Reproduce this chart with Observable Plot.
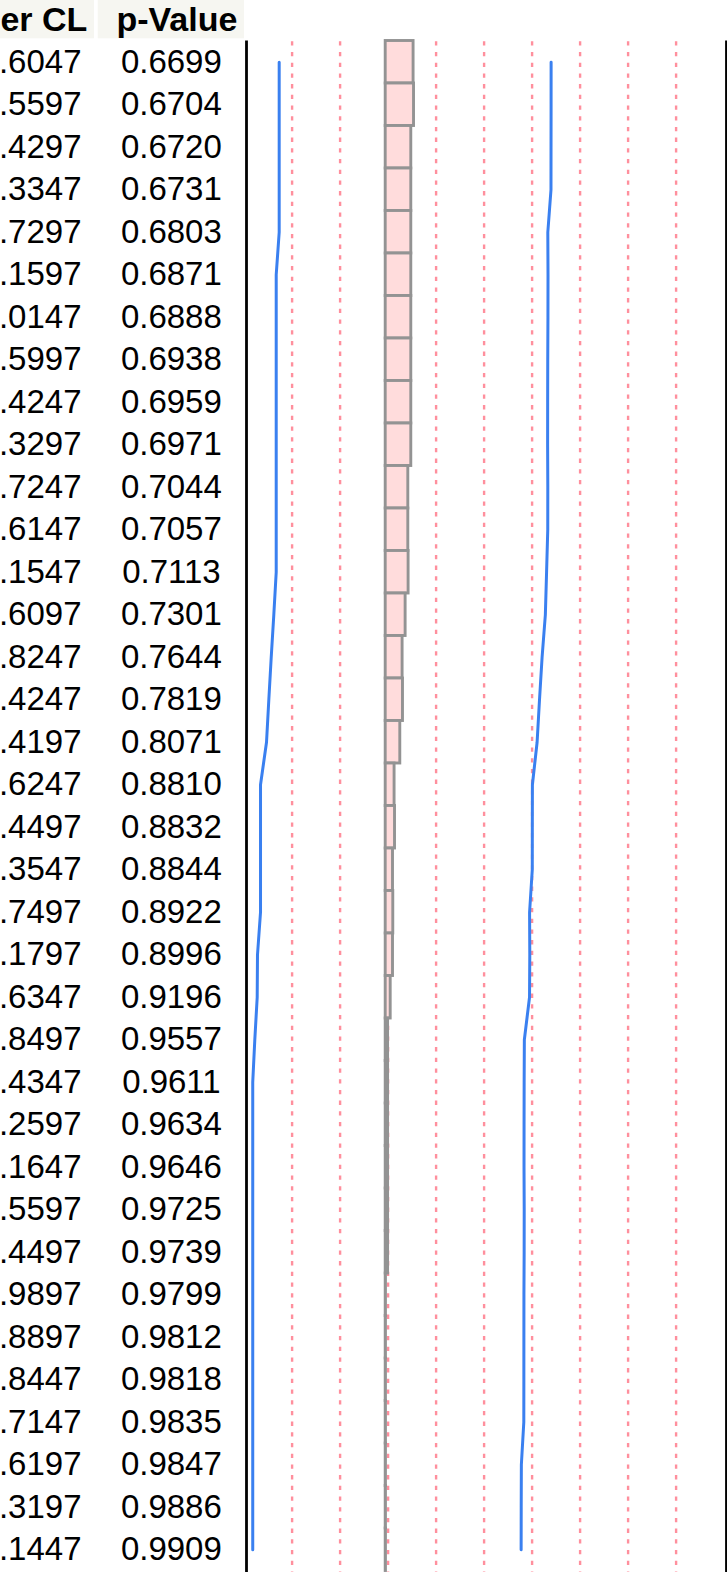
<!DOCTYPE html>
<html>
<head>
<meta charset="utf-8">
<script src="https://cdn.jsdelivr.net/npm/d3@7"></script>
<script src="https://cdn.jsdelivr.net/npm/@observablehq/plot@0.6"></script>
<style>
  html, body { margin: 0; padding: 0; background: #fff; overflow: hidden; }
  #wrap { position: relative; width: 727px; height: 1572px; overflow: hidden; }
  #wrap svg { position: absolute; top: 0; max-width: none !important; }
</style>
</head>
<body>
<div id="wrap"></div>
<script>
// ---- data ----
const columns = ["Upper CL", "p-Value"];

const pValue = [0.6699, 0.6704, 0.6720, 0.6731, 0.6803, 0.6871, 0.6888, 0.6938, 0.6959, 0.6971,
  0.7044, 0.7057, 0.7113, 0.7301, 0.7644, 0.7819, 0.8071, 0.8810, 0.8832, 0.8844,
  0.8922, 0.8996, 0.9196, 0.9557, 0.9611, 0.9634, 0.9646, 0.9725, 0.9739, 0.9799,
  0.9812, 0.9818, 0.9835, 0.9847, 0.9886, 0.9909];

const upperCL = [344.6047, 344.5597, 344.4297, 344.3347, 337.7297, 338.1597, 338.0147, 337.5997, 337.4247, 337.3297,
  337.7247, 337.6147, 335.1547, 332.6097, 325.8247, 320.4247, 315.4197, 305.6247, 305.4497, 305.3547,
  299.7497, 300.1797, 299.6347, 288.8497, 288.4347, 288.2597, 288.1647, 288.5597, 288.4497, 287.9897,
  287.8897, 287.8447, 287.7147, 282.6197, 282.3197, 282.1447];

const lowerCL = [-221.9, -221.9, -221.9, -221.9, -221.9, -228.1, -228.1, -228.1, -228.1, -228.1,
  -228.1, -228.1, -228.1, -233.1, -238.5, -243.5, -248.3, -260.8, -260.8, -260.8,
  -260.8, -267.1, -267.7, -272.7, -277.0, -277.0, -277.0, -277.0, -277.0, -277.0,
  -277.0, -277.0, -277.0, -277.0, -277.0, -277.0];

const estimate = [58.1, 59.0, 53.3, 53.3, 53.3, 53.3, 53.3, 53.3, 53.3, 53.3,
  47.1, 47.1, 47.7, 41.5, 35.2, 36.0, 30.4, 18.5, 19.4, 15.2,
  15.8, 15.2, 10.4, 5.0, 5.0, 5.0, 5.0, 5.0, 5.0, 0.5,
  0.5, 0.5, 0.5, 0.5, 0.5, 0.5];

const xDomain = [-290, 710];
const gridX = [-195, -95, 5, 105, 205, 305, 405, 505, 605];

// ---- layout ----
const rowH = 42.5;
const topM = 40.5;
const nBands = pValue.length + 1;        // one more band continues below the window
const H = topM + nBands * rowH;
const rows = pValue.map((p, i) => ({i, p, ucl: upperCL[i], lcl: lowerCL[i], est: estimate[i]}));
const rowDomain = d3.range(nBands);
const font = "'Liberation Sans', Arial, Helvetica, sans-serif";

// ---- table ----
const table = Plot.plot({
  width: 244,
  height: H,
  margin: 0,
  style: {fontFamily: font, background: "transparent", color: "#000"},
  x: {type: "band", domain: columns, range: [-52.3, 244], paddingInner: 0.025, paddingOuter: 0, round: false, axis: null},
  y: {type: "band", domain: ["header", ...rowDomain], range: [topM - rowH, H], padding: 0, round: false, axis: null},
  marks: [
    Plot.cell(columns, {x: d => d, y: () => "header", fill: "#f6f6f1", insetBottom: 2.2}),
    Plot.text(columns, {x: d => d, y: () => "header", text: d => d, textAnchor: "end", dx: 66,
      fontWeight: "bold", fontSize: 34, fill: "#000"}),
    Plot.text(rows, {x: () => "Upper CL", y: "i", text: d => d.ucl.toFixed(4), textAnchor: "end", dx: 60.2,
      fontSize: 33, fill: "#000"}),
    Plot.text(rows, {x: () => "p-Value", y: "i", text: d => d.p.toFixed(4), fontSize: 33, fill: "#000"})
  ]
});

// ---- chart ----
const chart = Plot.plot({
  width: 483,
  height: H,
  marginLeft: 2,
  marginRight: 1,
  marginTop: topM,
  marginBottom: 0,
  style: {fontFamily: font, background: "transparent"},
  x: {domain: xDomain, axis: null},
  y: {type: "band", domain: rowDomain, padding: 0, round: false, axis: null},
  marks: [
    Plot.ruleX(gridX, {stroke: "#ff8f9d", strokeWidth: 2.4, strokeDasharray: "4.3,6.4", strokeDashoffset: -0.8}),
    Plot.barX(rows, {x1: 0, x2: "est", y: "i", fill: "#ffdcdc", stroke: "#939393", strokeWidth: 2.9}),
    Plot.line(rows, {x: "lcl", y: "i", stroke: "#3a80f0", strokeWidth: 3}),
    Plot.line(rows, {x: "ucl", y: "i", stroke: "#3a80f0", strokeWidth: 3}),
    Plot.ruleX(xDomain, {stroke: "#000", strokeWidth: 2.8})
  ]
});

for (const [svg, left, w] of [[table, 0, 244], [chart, 244, 483]]) {
  svg.style.left = left + "px";
  svg.style.width = w + "px";
  svg.style.height = H + "px";
}
const wrap = document.getElementById("wrap");
wrap.appendChild(table);
wrap.appendChild(chart);
</script>
</body>
</html>
